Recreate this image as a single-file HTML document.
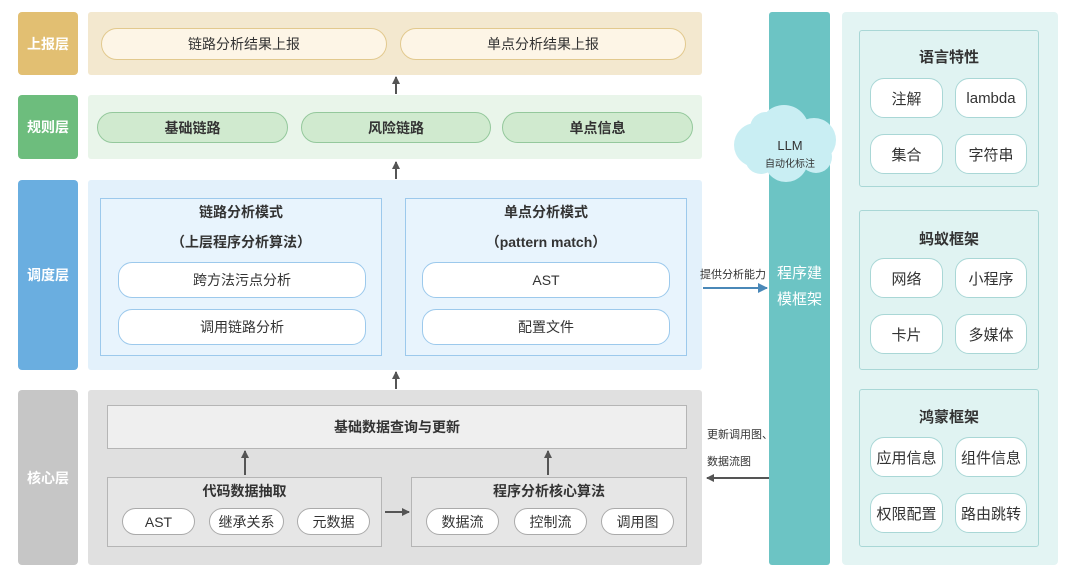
<!DOCTYPE html>
<html><head><meta charset="utf-8"><style>
body{margin:0;width:1080px;height:576px;background:#fff;position:relative;overflow:hidden;font-family:"Liberation Sans","Noto Sans CJK SC",sans-serif;color:#333}
div{position:absolute;box-sizing:border-box}
.c{display:flex;align-items:center;justify-content:center;text-align:center}
.lab{left:18px;width:60px;border-radius:4px;color:#fff;font-size:14px;font-weight:bold}
.pill{border-radius:16px;font-size:14px}
.y{background:#fdf5e6;border:1px solid #e2c98e}
.g{background:#d0eacf;border:1px solid #94c89c;font-weight:bold}
.b{background:#fff;border:1px solid #9cc9ec;border-radius:14px;font-size:14px}
.w{background:#fff;border:1px solid #aaa;border-radius:14px;font-size:14px}
.t{background:#fff;border:1px solid #a9d7d6;border-radius:14px;font-size:15px}
.grp{left:859px;width:180px;background:#e0f3f2;border:1px solid #a9d7d6;border-radius:3px}
.gt{font-weight:bold;font-size:15px;left:0;width:100%}
</style></head><body>
<div class="lab c" style="top:12px;height:63px;background:#e2bf72">上报层</div>
<div class="lab c" style="top:95px;height:64px;background:#6dbd7d">规则层</div>
<div class="lab c" style="top:180px;height:190px;background:#6aaee0">调度层</div>
<div class="lab c" style="top:390px;height:175px;background:#c6c6c6">核心层</div>

<div style="left:88px;top:12px;width:614px;height:63px;background:#f3e8cf;border-radius:3px"></div>
<div class="pill y c" style="left:101px;top:28px;width:286px;height:32px">链路分析结果上报</div>
<div class="pill y c" style="left:400px;top:28px;width:286px;height:32px">单点分析结果上报</div>

<div style="left:88px;top:95px;width:614px;height:64px;background:#e9f5ea;border-radius:3px"></div>
<div class="pill g c" style="left:97px;top:112px;width:191px;height:31px">基础链路</div>
<div class="pill g c" style="left:301px;top:112px;width:190px;height:31px">风险链路</div>
<div class="pill g c" style="left:502px;top:112px;width:191px;height:31px">单点信息</div>

<div style="left:88px;top:180px;width:614px;height:190px;background:#e3f1fb;border-radius:3px"></div>
<div style="left:100px;top:198px;width:282px;height:158px;background:#e8f4fd;border:1px solid #9cc9ec"></div>
<div style="left:405px;top:198px;width:282px;height:158px;background:#e8f4fd;border:1px solid #9cc9ec"></div>
<div class="c" style="left:100px;top:202px;width:282px;height:20px;font-weight:bold;font-size:14px">链路分析模式</div>
<div class="c" style="left:100px;top:232px;width:282px;height:20px;font-weight:bold;font-size:14px">（上层程序分析算法）</div>
<div class="c" style="left:405px;top:202px;width:282px;height:20px;font-weight:bold;font-size:14px">单点分析模式</div>
<div class="c" style="left:405px;top:232px;width:282px;height:20px;font-weight:bold;font-size:14px">（pattern match）</div>
<div class="b c" style="left:118px;top:262px;width:248px;height:36px">跨方法污点分析</div>
<div class="b c" style="left:118px;top:309px;width:248px;height:36px">调用链路分析</div>
<div class="b c" style="left:422px;top:262px;width:248px;height:36px">AST</div>
<div class="b c" style="left:422px;top:309px;width:248px;height:36px">配置文件</div>

<div style="left:88px;top:390px;width:614px;height:175px;background:#e0e0e0;border-radius:3px"></div>
<div class="c" style="left:107px;top:405px;width:580px;height:44px;background:#efefef;border:1px solid #b5b5b5;font-weight:bold;font-size:14px">基础数据查询与更新</div>
<div style="left:107px;top:477px;width:275px;height:70px;background:#e6e6e6;border:1px solid #b5b5b5"></div>
<div style="left:411px;top:477px;width:276px;height:70px;background:#e6e6e6;border:1px solid #b5b5b5"></div>
<div class="c" style="left:107px;top:481px;width:275px;height:20px;font-weight:bold;font-size:14px">代码数据抽取</div>
<div class="c" style="left:411px;top:481px;width:276px;height:20px;font-weight:bold;font-size:14px">程序分析核心算法</div>
<div class="w c" style="left:122px;top:508px;width:73px;height:27px">AST</div>
<div class="w c" style="left:209px;top:508px;width:75px;height:27px">继承关系</div>
<div class="w c" style="left:297px;top:508px;width:73px;height:27px">元数据</div>
<div class="w c" style="left:426px;top:508px;width:73px;height:27px">数据流</div>
<div class="w c" style="left:514px;top:508px;width:73px;height:27px">控制流</div>
<div class="w c" style="left:601px;top:508px;width:73px;height:27px">调用图</div>

<svg style="position:absolute;left:0;top:0" width="1080" height="576">
<defs><marker id="a" markerWidth="8" markerHeight="8" refX="7" refY="4" orient="auto" markerUnits="userSpaceOnUse"><path d="M0,0L8,4L0,8z" fill="#555"/></marker>
<marker id="bl" markerWidth="10" markerHeight="10" refX="9" refY="5" orient="auto" markerUnits="userSpaceOnUse"><path d="M0,0L10,5L0,10z" fill="#4a88b8"/></marker></defs>
<g stroke="#555" stroke-width="2" marker-end="url(#a)">
<line x1="396" y1="94" x2="396" y2="77"/><line x1="396" y1="179" x2="396" y2="162"/><line x1="396" y1="389" x2="396" y2="372"/>
<line x1="245" y1="475" x2="245" y2="451"/><line x1="548" y1="475" x2="548" y2="451"/>
<line x1="385" y1="512" x2="409" y2="512"/><line x1="769" y1="478" x2="707" y2="478"/>
</g>
<line x1="703" y1="288" x2="767" y2="288" stroke="#4a88b8" stroke-width="2" marker-end="url(#bl)"/>
</svg>
<div style="left:700px;top:266px;font-size:11px;white-space:nowrap">提供分析能力</div>
<div style="left:707px;top:426px;font-size:11px;white-space:nowrap">更新调用图、</div>
<div style="left:707px;top:453px;font-size:11px;white-space:nowrap">数据流图</div>

<div style="left:769px;top:12px;width:61px;height:553px;background:#6cc4c4;border-radius:3px"></div>
<div class="c" style="left:769px;top:262px;width:61px;height:50px;color:#fff;font-size:15px;line-height:26px">程序建<br>模框架</div>
<svg style="position:absolute;left:726px;top:100px" width="120" height="84"><g fill="#c9eef3">
<circle cx="30" cy="45" r="22"/><circle cx="58" cy="30" r="25"/><circle cx="88" cy="40" r="22"/><circle cx="60" cy="60" r="22"/><circle cx="35" cy="58" r="16"/><circle cx="90" cy="57" r="16"/><circle cx="40" cy="28" r="16"/></g></svg>
<div class="c" style="left:750px;top:137px;width:80px;height:16px;font-size:13px">LLM</div>
<div class="c" style="left:750px;top:155px;width:80px;height:14px;font-size:10px">自动化标注</div>

<div style="left:842px;top:12px;width:216px;height:553px;background:#e3f4f3;border-radius:4px"></div>
<div class="grp" style="top:30px;height:157px"><div class="gt c" style="top:14px;height:22px">语言特性</div></div>
<div class="t c" style="left:870px;top:78px;width:73px;height:40px">注解</div>
<div class="t c" style="left:955px;top:78px;width:72px;height:40px">lambda</div>
<div class="t c" style="left:870px;top:134px;width:73px;height:40px">集合</div>
<div class="t c" style="left:955px;top:134px;width:72px;height:40px">字符串</div>
<div class="grp" style="top:210px;height:160px"><div class="gt c" style="top:16px;height:22px">蚂蚁框架</div></div>
<div class="t c" style="left:870px;top:258px;width:73px;height:40px">网络</div>
<div class="t c" style="left:955px;top:258px;width:72px;height:40px">小程序</div>
<div class="t c" style="left:870px;top:314px;width:73px;height:40px">卡片</div>
<div class="t c" style="left:955px;top:314px;width:72px;height:40px">多媒体</div>
<div class="grp" style="top:389px;height:158px"><div class="gt c" style="top:15px;height:22px">鸿蒙框架</div></div>
<div class="t c" style="left:870px;top:437px;width:73px;height:40px">应用信息</div>
<div class="t c" style="left:955px;top:437px;width:72px;height:40px">组件信息</div>
<div class="t c" style="left:870px;top:493px;width:73px;height:40px">权限配置</div>
<div class="t c" style="left:955px;top:493px;width:72px;height:40px">路由跳转</div>
</body></html>
